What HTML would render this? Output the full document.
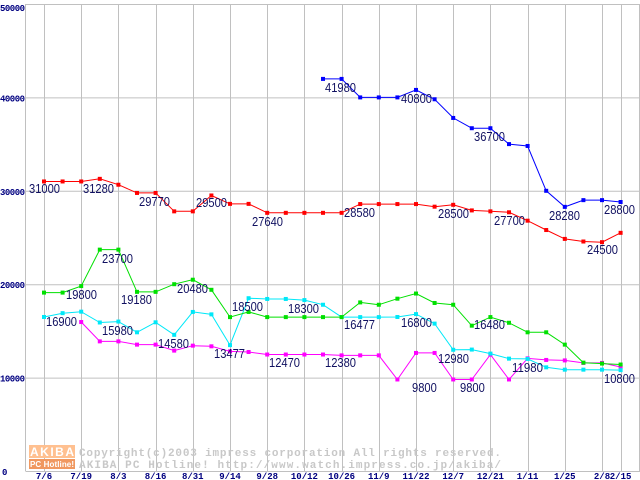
<!DOCTYPE html>
<html><head><meta charset="utf-8"><style>
html,body{margin:0;padding:0;background:#fff;width:640px;height:480px;overflow:hidden}
svg{display:block}
.ax{font-family:"Liberation Mono",monospace;font-weight:bold;font-size:9px;fill:#000080}
.lb{font-family:"Liberation Sans",sans-serif;font-size:13px;fill:#101060}
.wm{font-family:"Liberation Mono",monospace;font-weight:bold;font-size:11px;fill:#c8c8c8}
</style></head><body>
<svg id="chart" width="640" height="480" viewBox="0 0 640 480" xmlns="http://www.w3.org/2000/svg">
<g id="grid"></g>
<g id="wm">
<rect x="29" y="445" width="46" height="13" fill="#ffc090"/>
<text x="30" y="456" font-family="Liberation Sans,sans-serif" font-weight="bold" font-size="12" fill="#fff" textLength="44">AKIBA</text>
<rect x="29" y="459" width="46" height="10" fill="#f09860"/>
<text x="30" y="467" font-family="Liberation Sans,sans-serif" font-weight="bold" font-size="8" fill="#fff" textLength="44">PC Hotline!</text>
<text class="wm" x="79" y="456" textLength="422">Copyright(c)2003 impress corporation All rights reserved.</text>
<text class="wm" x="79" y="468" textLength="422">AKIBA PC Hotline!  http://www.watch.impress.co.jp/akiba/</text>
</g>
<g id="series"></g>
<g id="labels"></g>
</svg>
<script>
const xTickLabels=["7/6","7/19","8/3","8/16","8/31","9/14","9/28","10/12","10/26","11/9","11/22","12/7","12/21","1/11","1/25","2/8","2/15"];
const xTickIdx=[0,2,4,6,8,10,12,14,16,18,20,22,24,26,28,30,31];
const yTicks=[0,10000,20000,30000,40000,50000];
const N=32;
const blue=[null,null,null,null,null,null,null,null,null,null,null,null,null,null,null,41980,41980,40000,40000,40000,40800,39800,37800,36700,36700,35000,34800,30000,28280,29000,29000,28800];
const red=[31000,31000,31000,31280,30650,29770,29770,27800,27800,29500,28600,28600,27640,27640,27640,27640,27640,28580,28580,28580,28580,28300,28500,27900,27800,27700,26800,25800,24850,24570,24500,25500];
const green=[19100,19100,19800,23700,23700,19180,19180,20000,20480,19400,16477,17030,16477,16477,16477,16477,16477,18050,17800,18450,19000,17990,17800,15560,16480,15870,14850,14850,13530,11600,11500,11400];
const cyan=[16490,16900,17060,15900,16000,14850,15920,14580,17030,16770,13477,18500,18420,18420,18300,17800,16477,16477,16477,16490,16800,15780,12980,13000,12570,12030,12000,11100,10850,10850,10850,10800];
const magenta=[null,null,15950,13880,13880,13530,13530,12890,13420,13350,12810,12740,12470,12470,12470,12470,12380,12380,12380,9800,12640,12640,9800,9800,12460,9800,12060,11890,11840,11570,11570,11140];
const labelTexts=["31000","31280","29770","29500","27640","28580","28500","27700","28280","24500","28800","41980","40800","36700","23700","19800","19180","20480","16900","15980","14580","18500","18300","16477","13477","12470","12380","9800","16800","16480","12980","11980","9800","10800"];
const labelLeft=[29,83,139,196,252,344,438,494,549,587,604,325,401,474,102,66,121,177,46,102,158,232,288,344,214,269,325,412,401,474,438,512,460,604];
const labelBase=[193,193,206,207,226,217,218,225,220,254,214,92,103,141,263,299,304,293,326,335,348,311,313,329,358,367,367,392,327,329,363,372,392,383];
const NS="http://www.w3.org/2000/svg";
const X0=44,DX=18.6,Y0=471,YS=93.4/10000;
function xs(i){return X0+DX*i;}
function ys(v){return Y0-v*YS;}
function mk(t,a,p){const e=document.createElementNS(NS,t);for(const k in a)e.setAttribute(k,a[k]);p.appendChild(e);return e;}
const grid=document.getElementById('grid');
let ln;
yTicks.forEach(v=>{
  ln=mk('line',{x1:25.5,x2:640,y1:ys(v)+0.5,y2:ys(v)+0.5,stroke:'#c0c0c0','stroke-width':1},grid);
  
  
  const t=mk('text',{class:'ax',x:v===0?2:0,y:ys(v)+(v===50000?7:4),textLength:v===0?5:25},grid);
  t.textContent=String(v);
  
  
});
ln=mk('line',{x1:25.5,x2:25.5,y1:4,y2:471,stroke:'#c0c0c0'},grid);


ln=mk('line',{x1:639.5,x2:639.5,y1:4,y2:471,stroke:'#c0c0c0'},grid);


xTickIdx.forEach((idx,k)=>{
  const x=Math.round(xs(idx))+0.5;
  ln=mk('line',{x1:x,x2:x,y1:4,y2:471,stroke:'#c0c0c0'},grid);
  
  
  const t=mk('text',{class:'ax',x:xs(idx),y:479,'text-anchor':'middle'},grid);
  t.textContent=xTickLabels[k];
  
  
});
const sg=document.getElementById('series');
function drawSeries(data,color,name){
  const g=mk('g',{},sg);
  
  
  let pts=[];
  data.forEach((v,i)=>{if(v!==null)pts.push([xs(i),ys(v)]);});
  const pl=mk('polyline',{points:pts.map(p=>p[0].toFixed(1)+','+p[1].toFixed(1)).join(' '),fill:'none',stroke:color,'stroke-width':1},g);
  
  
  pts.forEach(p=>{
    const r=mk('rect',{x:p[0]-2,y:p[1]-2,width:4,height:4,fill:color},g);
    
    
  });
}
drawSeries(magenta,'#ff00ff','series-magenta');
drawSeries(cyan,'#00e8f8','series-cyan');
drawSeries(green,'#00e000','series-green');
drawSeries(red,'#ff0000','series-red');
drawSeries(blue,'#0000ff','series-blue');
const lg=document.getElementById('labels');
labelTexts.forEach((s,i)=>{
  const t=mk('text',{class:'lb',x:labelLeft[i],y:labelBase[i],textLength:s.length*6.2,lengthAdjust:'spacingAndGlyphs'},lg);
  t.textContent=s;
  
  
});
</script>
</body></html>
